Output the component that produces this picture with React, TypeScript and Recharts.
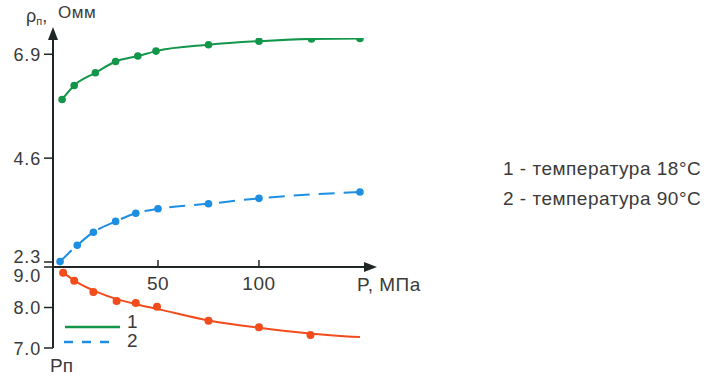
import { ComposedChart, Line, Scatter, XAxis, YAxis } from "recharts";

// pressure P, MPa and resistivity readings
const pressureGreen = [2.5, 8.5, 19, 29, 40, 49, 75, 100, 126, 150];
const rhoGreen = [5.9, 6.21, 6.49, 6.74, 6.86, 6.97, 7.11, 7.19, 7.24, 7.25];

const pressureBlue = [1.5, 10, 18, 29, 39, 50, 75, 100, 150];
const rhoBlue = [2.31, 2.67, 2.96, 3.2, 3.38, 3.48, 3.59, 3.71, 3.85];

const pressureRed = [3, 8.5, 18, 29.5, 39, 49.5, 75, 100, 125.5];
const rpRed = [8.86, 8.66, 8.38, 8.16, 8.11, 8.02, 7.67, 7.51, 7.32];

// fitted curve for Rп
const pressureFit = [3, 10, 20, 30, 40, 50, 75, 100, 125, 150];
const rpFit = [8.86, 8.62, 8.38, 8.2, 8.07, 7.96, 7.68, 7.5, 7.36, 7.27];

const rhoTicks = [2.3, 4.6, 6.9];
const rpTicks = [7, 8, 9];
const pressureTicks = [50, 100];

const GREEN = "#12964a";
const BLUE = "#1c8fe3";
const RED = "#f24b1c";
const AXIS = "#1f2626";
const TEXT = "#3a3a3a";
const FONT = "'Liberation Sans', Arial, sans-serif";

const greenData = pressureGreen.map((p, i) => ({ p, v: rhoGreen[i] }));
const blueData = pressureBlue.map((p, i) => ({ p, v: rhoBlue[i] }));
const redData = pressureRed.map((p, i) => ({ p, v: rpRed[i] }));
const fitData = pressureFit.map((p, i) => ({ p, v: rpFit[i] }));

const X_DOMAIN: [number, number] = [-2, 153];

function PressureTick(props: any) {
  const { x, y, payload } = props;
  return (
    <g>
      <line x1={x} x2={x} y1={y - 7} y2={y} stroke={AXIS} strokeWidth={1.5} />
      <text x={x} y={y + 23} textAnchor="middle" fill={TEXT} fontSize={19} fontFamily={FONT} letterSpacing={0.5}>
        {payload.value}
      </text>
    </g>
  );
}

function ValueTick(props: any) {
  const { x, y, payload } = props;
  const v = payload.value;
  // 2.3 and 9.0 sit on the same spot, nudge them apart like the original
  let shift = 0;
  if (v === 2.3) shift = -6;
  if (v === 9) shift = 8;
  return (
    <text x={x} y={y + 6.5 + shift} textAnchor="end" fill={TEXT} fontSize={18} fontFamily={FONT} letterSpacing={0.8}>
      {Number(v).toFixed(1)}
    </text>
  );
}

const dotStyle = (c: string) => ({ r: 3.8, fill: c, stroke: c, strokeWidth: 0 });

export default function App() {
  return (
    <div style={{ position: "absolute", left: 0, top: 0, width: 717, height: 376, background: "#fff", overflow: "hidden" }}>
      <svg width={0} height={0} style={{ position: "absolute" }}>
        <defs>
          <marker id="arrowhead" viewBox="0 0 13 10" refX={2} refY={5} markerWidth={13} markerHeight={10} markerUnits="userSpaceOnUse" orient="auto-start-reverse">
            <path d="M0,0 L13,5 L0,10 z" fill={AXIS} />
          </marker>
        </defs>
      </svg>

      <div style={{ position: "absolute", left: 0, top: 0 }}>
        <ComposedChart width={717} height={300} margin={{ top: 38, right: 351, bottom: 0, left: 8 }}>
          <XAxis
            type="number"
            dataKey="p"
            domain={X_DOMAIN}
            ticks={pressureTicks}
            interval={0}
            allowDataOverflow
            height={33}
            axisLine={{ stroke: AXIS, strokeWidth: 2, markerEnd: "url(#arrowhead)" }}
            tickLine={false}
            tickSize={0}
            tickMargin={0}
            tick={<PressureTick />}
          />
          <YAxis
            type="number"
            domain={[2.19, 7.26]}
            ticks={rhoTicks}
            interval={0}
            allowDataOverflow
            width={45}
            axisLine={{ stroke: AXIS, strokeWidth: 2, markerStart: "url(#arrowhead)" }}
            tickLine={{ stroke: AXIS, strokeWidth: 1.5 }}
            tickSize={9}
            tickMargin={3}
            tick={<ValueTick />}
          />
          <Line data={greenData} dataKey="v" type="monotone" stroke={GREEN} strokeWidth={2} dot={dotStyle(GREEN)} isAnimationActive={false} />
          <Line data={blueData} dataKey="v" type="monotone" stroke={BLUE} strokeWidth={2} strokeDasharray="16 9" dot={dotStyle(BLUE)} isAnimationActive={false} />
        </ComposedChart>
      </div>

      <div style={{ position: "absolute", left: 0, top: 250 }}>
        <ComposedChart width={717} height={110} margin={{ top: 17, right: 351, bottom: 12, left: 8 }}>
          <XAxis type="number" dataKey="p" domain={X_DOMAIN} allowDataOverflow hide />
          <YAxis
            type="number"
            domain={[7, 9]}
            ticks={rpTicks}
            interval={0}
            width={45}
            axisLine={{ stroke: AXIS, strokeWidth: 2 }}
            tickLine={{ stroke: AXIS, strokeWidth: 1.5 }}
            tickSize={9}
            tickMargin={3}
            tick={<ValueTick />}
          />
          <Line data={fitData} dataKey="v" type="monotone" stroke={RED} strokeWidth={2} dot={false} isAnimationActive={false} />
          <Scatter
            data={redData}
            dataKey="v"
            fill={RED}
            isAnimationActive={false}
            shape={(p: any) => <circle cx={p.cx} cy={p.cy} r={4} fill={RED} />}
          />
        </ComposedChart>
      </div>

      <svg width={717} height={376} style={{ position: "absolute", left: 0, top: 0, pointerEvents: "none" }} fontFamily={FONT} fill={TEXT}>
        <text x={26} y={22} fontSize={18}>
          ρ<tspan fontSize={11} dy={3}>п</tspan>
          <tspan dy={-3}>,</tspan>
        </text>
        <text x={58} y={18} fontSize={17} letterSpacing={0.5}>Омм</text>
        <text x={357} y={291} fontSize={19} letterSpacing={0.5}>P, МПа</text>
        <text x={50} y={372} fontSize={19}>Рп</text>

        <line x1={65} x2={120} y1={327} y2={327} stroke={GREEN} strokeWidth={2.5} />
        <line x1={64} x2={113} y1={342} y2={342} stroke={BLUE} strokeWidth={2.5} strokeDasharray="9 9" />
        <text x={127} y={328} fontSize={19}>1</text>
        <text x={127} y={347} fontSize={19}>2</text>

        <text x={503} y={175} fontSize={19} letterSpacing={0.5}>1 - температура 18°C</text>
        <text x={503} y={205} fontSize={19} letterSpacing={0.5}>2 - температура 90°C</text>
      </svg>
    </div>
  );
}
